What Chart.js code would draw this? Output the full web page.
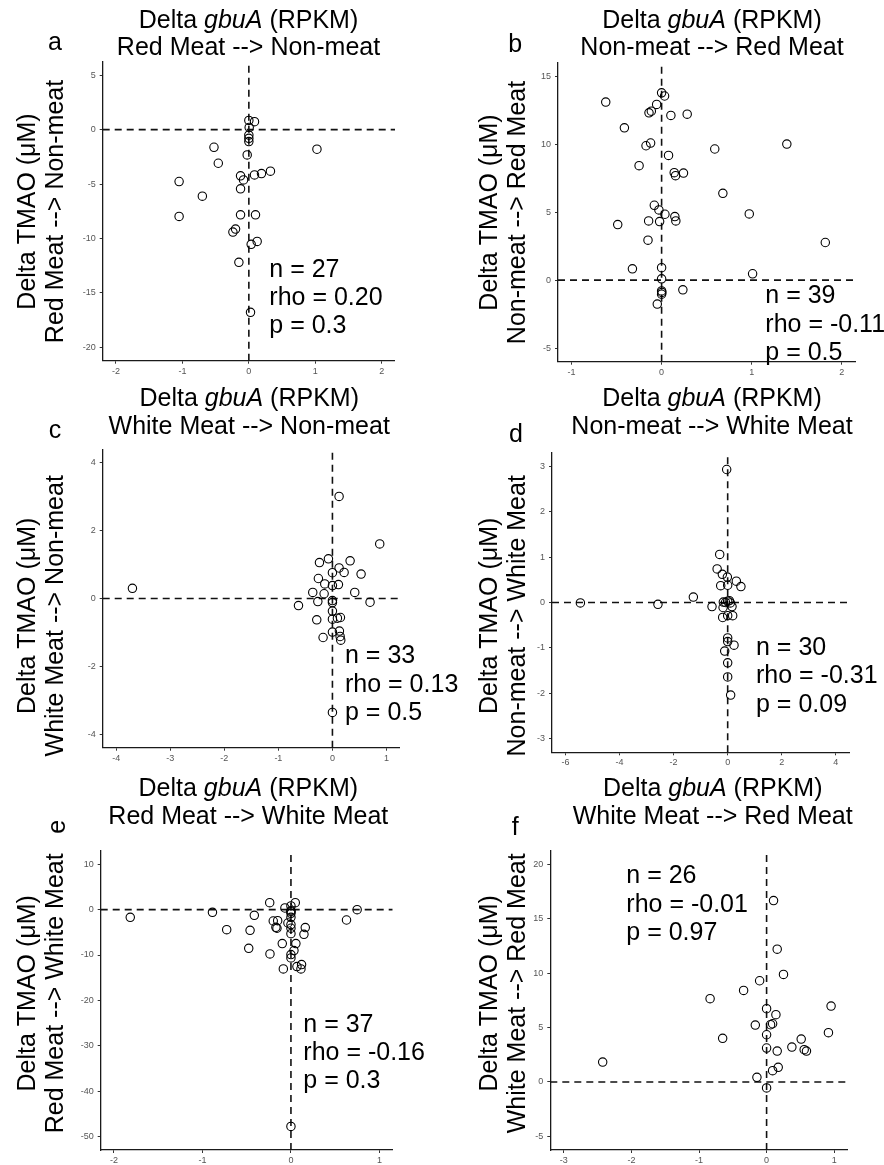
<!DOCTYPE html>
<html><head><meta charset="utf-8">
<script src="https://cdn.jsdelivr.net/npm/chart.js@4.4.1/dist/chart.umd.min.js"></script>
<style>
html,body{margin:0;padding:0;background:#fff;width:884px;height:1165px;overflow:hidden}
canvas{position:absolute;left:0;top:0}
</style></head><body>
<canvas id="ca" width="884" height="1165"></canvas>
<canvas id="cb" width="884" height="1165"></canvas>
<canvas id="cc" width="884" height="1165"></canvas>
<canvas id="cd" width="884" height="1165"></canvas>
<canvas id="ce" width="884" height="1165"></canvas>
<canvas id="cf" width="884" height="1165"></canvas>
<script>
// ---- data ----
const aX=[0,0.085,0.005,0,0,0,-0.525,1.025,-0.025,-0.46,0.325,0.19,0.085,-0.125,-0.08,-1.05,-0.125,-0.7,-1.05,-0.125,0.1,-0.2,-0.24,0.035,0.125,-0.15,0.025];
const aY=[0.85,0.73,0.2,-0.5,-0.8,-1.1,-1.62,-1.8,-2.32,-3.09,-3.82,-4.04,-4.16,-4.25,-4.62,-4.77,-5.44,-6.12,-7.98,-7.83,-7.83,-9.14,-9.42,-10.55,-10.28,-12.2,-16.8];
const bX=[0,0.033,-0.62,-0.055,-0.14,-0.114,0.103,0.284,-0.413,-0.122,-0.173,0.59,1.39,0.077,-0.25,0.14,0.155,0.243,0.68,-0.081,-0.03,0.037,0.973,0.147,0.158,-0.144,-0.022,-0.487,-0.151,1.817,-0.324,0,1.01,0,0.236,0,0,-0.048,0.003];
const bY=[13.78,13.55,13.1,12.93,12.31,12.43,12.12,12.21,11.21,10.09,9.89,9.65,10.01,9.18,8.42,7.91,7.69,7.88,6.39,5.51,5.17,4.85,4.87,4.68,4.36,4.36,4.31,4.09,2.94,2.77,0.83,0.92,0.47,0.1,-0.71,-0.79,-1.03,-1.76,-0.9];
const cX=[0.123,0.875,-3.70,-0.074,-0.24,0.327,0.123,0,0.216,0.53,-0.26,-0.142,0,0.111,-0.364,-0.154,0.413,-0.27,0,0,0.696,-0.628,0,-0.29,0,0.092,0.148,0,0.129,-0.173,0.142,0.154,0];
const cY=[3.01,1.61,0.30,1.17,1.06,1.11,0.9,0.76,0.77,0.72,0.59,0.43,0.38,0.41,0.18,0.14,0.18,-0.09,-0.06,-0.12,-0.11,-0.21,-0.37,-0.63,-0.61,-0.58,-0.56,-0.99,-0.96,-1.15,-1.12,-1.23,-3.36];
const dX=[-0.037,-0.295,-0.39,-0.197,-0.012,0.32,0.49,-0.258,0,-1.27,-5.45,-2.58,-0.58,-0.16,-0.08,0,0.06,0.1,-0.17,0.16,-0.185,0,0.185,0,0,0.234,-0.11,0,0,0.11];
const dY=[2.93,1.06,0.74,0.62,0.56,0.47,0.35,0.37,0.38,0.12,-0.01,-0.04,-0.09,0.01,0.0,0.03,0.04,-0.01,-0.11,-0.09,-0.33,-0.29,-0.29,-0.78,-0.86,-0.94,-1.07,-1.33,-1.64,-2.04];
const eX=[-1.816,-0.887,-0.414,-0.726,-0.462,-0.477,-0.24,0.049,-0.068,0,0,0,0,0.748,0.628,-0.2,-0.15,-0.17,-0.158,-0.034,0,0,0.162,0.147,-0.098,0.056,-0.237,0.034,0,0,-0.086,0.068,0.12,0.113,0,0,0];
const eY=[-1.69,-0.59,-1.25,-4.41,-4.55,-8.52,1.54,1.54,0.37,0.81,-0.22,-0.81,-1.69,0,-2.28,-2.5,-2.42,-3.89,-4.1,-2.94,-4.1,-5.29,-3.96,-5.43,-7.49,-7.49,-9.77,-9.03,-9.91,-10.65,-13.07,-12.56,-12.11,-13.07,-47.8,-0.45,-3.3];
const fX=[0.103,0.157,0.25,-0.103,-0.34,-0.836,0.954,0,0.138,-0.167,0.059,0.089,0.915,-0.65,0,0.512,0.374,0,0.157,0.556,0.59,0.172,0.089,-2.425,-0.143,0];
const fY=[16.67,12.2,9.88,9.3,8.41,7.65,6.97,6.73,6.18,5.23,5.26,5.35,4.53,4.01,4.34,3.94,3.21,3.12,2.84,2.97,2.84,1.35,1.04,1.83,0.43,-0.55];

const aXTicks=[-2,-1,0,1,2], aYTicks=[-20,-15,-10,-5,0,5];
const bXTicks=[-1,0,1,2], bYTicks=[-5,0,5,10,15];
const cXTicks=[-4,-3,-2,-1,0,1], cYTicks=[-4,-2,0,2,4];
const dXTicks=[-6,-4,-2,0,2,4], dYTicks=[-3,-2,-1,0,1,2,3];
const eXTicks=[-2,-1,0,1], eYTicks=[-50,-40,-30,-20,-10,0,10];
const fXTicks=[-3,-2,-1,0,1], fYTicks=[-5,0,5,10,15,20];

const titleLine1=[['Delta ',false],['gbuA',true],[' (RPKM)',false]];
const yLine1='Delta TMAO (\u03BCM)';

// ---- layout ----
const FONT='"Liberation Sans", Arial, Helvetica, sans-serif';
const panels=[
 {id:'ca',x:aX,y:aY,xr:[-2.2,2.2],yr:[-21.25,6.25],xt:aXTicks,yt:aYTicks,area:[102.7,61.7,395,360.7],
  t2:'Red Meat --> Non-meat',tcx:248.5,tb:[27.7,55],yb:[35,62.7],ycy:211.5,
  letter:{t:'a',x:55,y:50},ann:{x:269.3,y:276.7,lines:['n = 27','rho = 0.20','p = 0.3']}},
 {id:'cb',x:bX,y:bY,xr:[-1.15,2.15],yr:[-6,16],xt:bXTicks,yt:bYTicks,area:[558,62.7,855.3,361.7],
  t2:'Non-meat --> Red Meat',tcx:712,tb:[27.7,55],yb:[497,525.3],ycy:212.5,
  letter:{t:'b',x:515.3,y:51.7},ann:{x:765.3,y:303.3,lines:['n = 39','rho = -0.11','p = 0.5']}},
 {id:'cc',x:cX,y:cY,xr:[-4.25,1.25],yr:[-4.4,4.4],xt:cXTicks,yt:cYTicks,area:[102.7,449.3,400,747.7],
  t2:'White Meat --> Non-meat',tcx:249.2,tb:[406,434.3],yb:[35,62.7],ycy:615.8,
  letter:{t:'c',x:55,y:438.3},ann:{x:345,y:663.3,lines:['n = 33','rho = 0.13','p = 0.5']}},
 {id:'cd',x:dX,y:dY,xr:[-6.5,4.5],yr:[-3.3,3.3],xt:dXTicks,yt:dYTicks,area:[552,452.7,849.3,752.3],
  t2:'Non-meat --> White Meat',tcx:712,tb:[406,434.3],yb:[497,525.3],ycy:615.8,
  letter:{t:'d',x:516,y:441.7},ann:{x:756,y:655,lines:['n = 30','rho = -0.31','p = 0.09']}},
 {id:'ce',x:eX,y:eY,xr:[-2.15,1.15],yr:[-53,13],xt:eXTicks,yt:eYTicks,area:[100.7,850.7,392.7,1150],
  t2:'Red Meat --> White Meat',tcx:248.3,tb:[796,824.3],yb:[35,62.7],ycy:993.3,
  letter:{t:'e',x:58.3,y:826.7,rot:true},ann:{x:303.3,y:1031.7,lines:['n = 37','rho = -0.16','p = 0.3']}},
 {id:'cf',x:fX,y:fY,xr:[-3.2,1.2],yr:[-6.25,21.25],xt:fXTicks,yt:fYTicks,area:[550.3,850.7,847.7,1150],
  t2:'White Meat --> Red Meat',tcx:712.7,tb:[796,824.3],yb:[497,525.3],ycy:993.3,
  letter:{t:'f',x:515.3,y:835},ann:{x:626.3,y:883.3,lines:['n = 26','rho = -0.01','p = 0.97']}}
];

function textPlugin(p){
  return {id:'txt_'+p.id, afterDraw(chart){
    const ctx=chart.ctx; ctx.save(); ctx.fillStyle='#000'; ctx.textBaseline='alphabetic';
    const f=it=>(it?'italic ':'')+'25px '+FONT;
    let w=0; titleLine1.forEach(s=>{ctx.font=f(s[1]); w+=ctx.measureText(s[0]).width;});
    let x=p.tcx-w/2; ctx.textAlign='left';
    titleLine1.forEach(s=>{ctx.font=f(s[1]); ctx.fillText(s[0],x,p.tb[0]); x+=ctx.measureText(s[0]).width;});
    ctx.font=f(false); ctx.textAlign='center'; ctx.fillText(p.t2,p.tcx,p.tb[1]);
    [[yLine1,p.yb[0]],[p.t2,p.yb[1]]].forEach(([t,bx])=>{
      ctx.save(); ctx.translate(bx,p.ycy); ctx.rotate(-Math.PI/2); ctx.textAlign='center'; ctx.fillText(t,0,0); ctx.restore();
    });
    const L=p.letter;
    if(L.rot){ctx.save(); ctx.translate(L.x,L.y); ctx.rotate(-Math.PI/2); ctx.textAlign='center'; ctx.textBaseline='middle'; ctx.fillText(L.t,0,0); ctx.restore();}
    else {ctx.textAlign='center'; ctx.fillText(L.t,L.x,L.y);}
    ctx.textAlign='left';
    p.ann.lines.forEach((t,i)=>ctx.fillText(t,p.ann.x,p.ann.y+i*28.3));
    ctx.restore();
  }};
}

function axisOpts(range,ticks,isX,size){
  return {type:'linear',min:range[0],max:range[1],
    afterBuildTicks:s=>{s.ticks=ticks.map(v=>({value:v}));},
    afterFit:s=>{ if(isX) s.height=size; else s.width=size; },
    grid:{display:true,drawOnChartArea:false,drawTicks:true,tickLength:3,tickColor:'#333',tickWidth:1},
    border:{display:true,color:'#1a1a1a',width:1.3},
    ticks:{font:{family:FONT,size:9},color:'#555',padding:isX?2:4,maxRotation:0,minRotation:0,autoSkip:false,callback:v=>String(v)}
  };
}

panels.forEach(p=>{
  const [L,T,R,B]=p.area; const YW=30, XH=20;
  new Chart(document.getElementById(p.id),{
    type:'scatter',
    data:{datasets:[
      {data:p.x.map((v,i)=>({x:v,y:p.y[i]})),pointRadius:4.2,pointHoverRadius:4.2,pointBorderColor:'#000',
       pointBackgroundColor:'rgba(0,0,0,0)',pointBorderWidth:1.1,borderColor:'#000',backgroundColor:'rgba(0,0,0,0)'},
      {data:[{x:0,y:p.yr[0]},{x:0,y:p.yr[1]}],showLine:true,borderColor:'#111',borderWidth:1.6,borderDash:[7,5],pointRadius:0,fill:false},
      {data:[{x:p.xr[0],y:0},{x:p.xr[1],y:0}],showLine:true,borderColor:'#111',borderWidth:1.6,borderDash:[7,5],pointRadius:0,fill:false}
    ]},
    options:{responsive:false,animation:false,events:[],devicePixelRatio:1,
      layout:{padding:{left:L-YW,top:T,right:884-R,bottom:1165-B-XH}},
      plugins:{legend:{display:false},tooltip:{enabled:false},title:{display:false}},
      scales:{x:axisOpts(p.xr,p.xt,true,XH),y:axisOpts(p.yr,p.yt,false,YW)}
    },
    plugins:[textPlugin(p)]
  });
});
</script></body></html>
